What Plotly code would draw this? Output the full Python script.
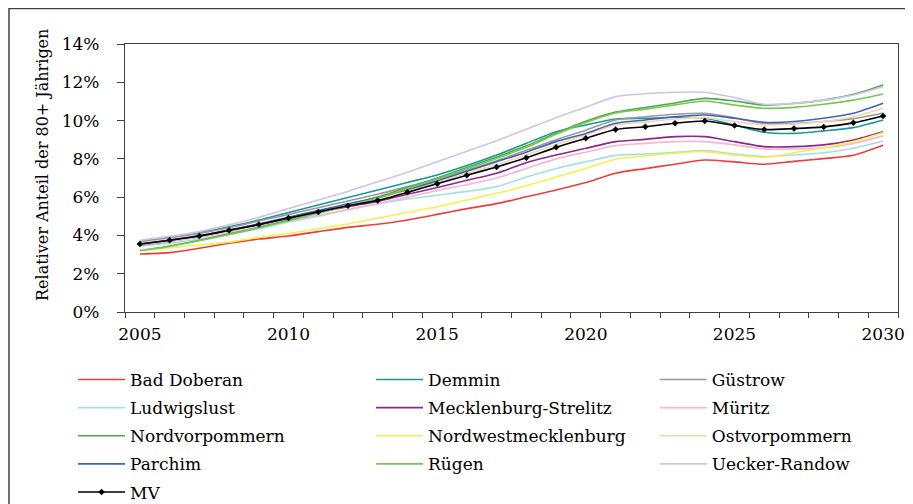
import plotly.graph_objects as go

years = list(range(2005, 2031))

bad_doberan = [3.03, 3.10, 3.33, 3.59, 3.81, 3.97, 4.20, 4.42, 4.58, 4.81, 5.10, 5.40, 5.66, 6.02, 6.37, 6.76, 7.25, 7.49, 7.72, 7.94, 7.84, 7.72, 7.87, 8.01, 8.19, 8.71]
demmin = [3.70, 3.90, 4.15, 4.45, 4.80, 5.20, 5.59, 5.98, 6.37, 6.77, 7.16, 7.65, 8.20, 8.81, 9.42, 9.77, 10.08, 10.12, 10.17, 10.12, 9.77, 9.39, 9.33, 9.46, 9.63, 10.03]
guestrow = [3.65, 3.85, 4.10, 4.40, 4.75, 5.10, 5.45, 5.80, 6.15, 6.55, 6.95, 7.40, 7.90, 8.45, 9.00, 9.50, 10.03, 10.20, 10.33, 10.38, 10.15, 9.85, 9.85, 9.95, 10.10, 10.40]
ludwigslust = [3.45, 3.60, 3.80, 4.05, 4.35, 4.70, 5.00, 5.35, 5.65, 5.90, 6.10, 6.30, 6.55, 7.05, 7.50, 7.85, 8.18, 8.25, 8.34, 8.43, 8.25, 8.12, 8.20, 8.32, 8.55, 8.93]
meck_strelitz = [3.50, 3.70, 3.95, 4.25, 4.55, 4.88, 5.20, 5.50, 5.78, 6.15, 6.50, 6.88, 7.25, 7.80, 8.20, 8.55, 8.90, 9.02, 9.16, 9.16, 8.90, 8.64, 8.64, 8.73, 8.99, 9.42]
mueritz = [3.50, 3.70, 3.90, 4.15, 4.45, 4.75, 5.05, 5.35, 5.65, 6.00, 6.35, 6.65, 7.00, 7.50, 8.00, 8.35, 8.69, 8.81, 8.90, 8.90, 8.73, 8.52, 8.52, 8.58, 8.81, 9.20]
nordvorpommern = [3.22, 3.45, 3.75, 4.08, 4.42, 4.80, 5.20, 5.60, 6.00, 6.50, 7.00, 7.55, 8.10, 8.68, 9.35, 9.97, 10.45, 10.68, 10.92, 11.16, 11.02, 10.81, 10.90, 11.07, 11.37, 11.86]
nwm = [3.22, 3.35, 3.50, 3.65, 3.90, 4.10, 4.35, 4.60, 4.90, 5.20, 5.50, 5.85, 6.20, 6.60, 7.05, 7.50, 7.98, 8.15, 8.29, 8.38, 8.20, 8.08, 8.32, 8.58, 8.90, 9.37]
ostvorpommern = [3.60, 3.80, 4.02, 4.30, 4.60, 4.93, 5.28, 5.62, 5.95, 6.35, 6.78, 7.25, 7.70, 8.20, 8.75, 9.25, 9.77, 9.92, 10.08, 10.15, 9.95, 9.77, 9.82, 9.95, 10.20, 10.64]
parchim = [3.55, 3.75, 3.98, 4.28, 4.60, 4.95, 5.30, 5.65, 5.98, 6.40, 6.85, 7.35, 7.85, 8.35, 8.90, 9.33, 9.86, 10.03, 10.20, 10.29, 10.12, 9.91, 9.95, 10.12, 10.38, 10.90]
ruegen = [3.20, 3.42, 3.72, 4.05, 4.40, 4.77, 5.16, 5.55, 5.95, 6.45, 6.95, 7.48, 8.02, 8.60, 9.28, 9.90, 10.40, 10.60, 10.82, 11.02, 10.81, 10.64, 10.69, 10.85, 11.07, 11.39]
uecker_randow = [3.75, 3.95, 4.20, 4.55, 4.95, 5.40, 5.85, 6.30, 6.80, 7.30, 7.85, 8.40, 8.95, 9.55, 10.15, 10.70, 11.25, 11.40, 11.48, 11.48, 11.20, 10.85, 10.90, 11.07, 11.34, 11.77]
mv = [3.55, 3.75, 3.97, 4.27, 4.57, 4.91, 5.23, 5.55, 5.83, 6.25, 6.70, 7.14, 7.58, 8.06, 8.60, 9.07, 9.53, 9.68, 9.86, 9.98, 9.74, 9.53, 9.58, 9.67, 9.88, 10.24]

# name, values, colour, legend column
series = [
    ("Bad Doberan", bad_doberan, "#f03c3c", "legend"),
    ("Demmin", demmin, "#1a9a94", "legend2"),
    ("Güstrow", guestrow, "#9a9a9a", "legend3"),
    ("Ludwigslust", ludwigslust, "#a4e0e0", "legend"),
    ("Mecklenburg-Strelitz", meck_strelitz, "#8a2a8a", "legend2"),
    ("Müritz", mueritz, "#f4b8d0", "legend3"),
    ("Nordvorpommern", nordvorpommern, "#4caa4c", "legend"),
    ("Nordwestmecklenburg", nwm, "#f4f050", "legend2"),
    ("Ostvorpommern", ostvorpommern, "#f8d4a8", "legend3"),
    ("Parchim", parchim, "#3c64c0", "legend"),
    ("Rügen", ruegen, "#78c850", "legend2"),
    ("Uecker-Randow", uecker_randow, "#cfc4e8", "legend3"),
]

fnt = "DejaVu Serif"

fig = go.Figure()
for name, vals, col, leg in series:
    fig.add_trace(go.Scatter(x=years, y=vals, name=name, mode="lines", legend=leg,
                             legendgroup=name,
                             line=dict(color=col, width=1.6, shape="spline", smoothing=0.7)))
fig.add_trace(go.Scatter(x=years, y=mv, name="MV", mode="lines+markers", legend="legend",
                         legendgroup="MV",
                         line=dict(color="black", width=1.6, shape="spline", smoothing=0.7),
                         marker=dict(symbol="diamond", size=5, color="black")))

leg_common = dict(orientation="v", y=-0.1866, yanchor="top", xanchor="left",
                  tracegroupgap=3, itemwidth=47, bgcolor="rgba(0,0,0,0)",
                  font=dict(family=fnt, size=17, color="black"))

# page has an 8px body margin, so the figure is 8px smaller than the window
fig.update_layout(
    width=905, height=496,
    margin=dict(l=117, r=15, t=36, b=192, autoexpand=False),
    paper_bgcolor="white", plot_bgcolor="white",
    font=dict(family=fnt, size=17, color="black"),
    showlegend=True,
    legend=dict(x=-0.0672, **leg_common),
    legend2=dict(x=0.3183, **leg_common),
    legend3=dict(x=0.6853, **leg_common),
    xaxis=dict(range=[2004.5, 2030.5], tickvals=[2005, 2010, 2015, 2020, 2025, 2030],
               ticks="outside", ticklen=0, showgrid=False, zeroline=False,
               showline=True, linecolor="#404040", linewidth=1.2, mirror=True,
               minor=dict(tick0=2004.5, dtick=1, ticks="outside", ticklen=5,
                          tickcolor="#404040", showgrid=False),
               ticklabelstandoff=6, ticklabeloverflow="allow",
               tickfont=dict(family=fnt, size=17)),
    yaxis=dict(range=[0, 14], dtick=2, ticksuffix="%", ticks="outside", ticklen=7,
               tickcolor="#404040", showgrid=False, zeroline=False,
               showline=True, linecolor="#404040", linewidth=1.2, mirror=True,
               ticklabelstandoff=14,
               tickfont=dict(family=fnt, size=17)),
)

fig.add_annotation(text="Relativer Anteil der 80+ Jährigen", textangle=-90,
                   xref="paper", yref="paper", x=-0.1074, y=0.5485,
                   xanchor="center", yanchor="middle", showarrow=False,
                   font=dict(family=fnt, size=16, color="black"))

fig.add_shape(type="rect", xref="paper", yref="paper",
              x0=(1 - 117) / 773, x1=(900 - 117) / 773,
              y0=-0.8, y1=(304 - 0.5) / 268,
              line=dict(color="#404040", width=1.5), layer="below")

fig.write_html("out.html")
